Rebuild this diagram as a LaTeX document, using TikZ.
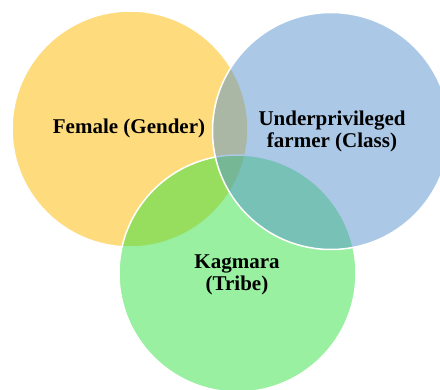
\documentclass[tikz,border=0pt]{standalone}
\usepackage{fontspec}
\setmainfont{Liberation Serif}
\definecolor{gendercol}{RGB}{254,220,126}
\definecolor{tribecol}{RGB}{49,225,65}
\definecolor{classcol}{RGB}{87,147,205}
\begin{document}
\begin{tikzpicture}[x=1pt,y=1pt]
    \tikzstyle{every node}+=[inner sep=0pt, align=center, font=\bfseries\fontsize{21}{22}\selectfont]
    \tikzstyle{setring}=[white, line width=1.5]
    \useasboundingbox (0,0) rectangle (440,-390);
    \draw [setring, fill=gendercol] (130,-129) circle (118);
    \draw [setring, fill=tribecol, fill opacity=0.5] (237.5,-273.5) circle (118.5);
    \draw [setring, fill=classcol, fill opacity=0.5] (331,-131) circle (118.5);
    \node (gender) at (129,-128) {Female (Gender)};
    \node (class) at (332,-131) {Underprivileged\\farmer (Class)};
    \node (tribe) at (237,-275) {Kagmara\\(Tribe)};
\end{tikzpicture}
\end{document}
